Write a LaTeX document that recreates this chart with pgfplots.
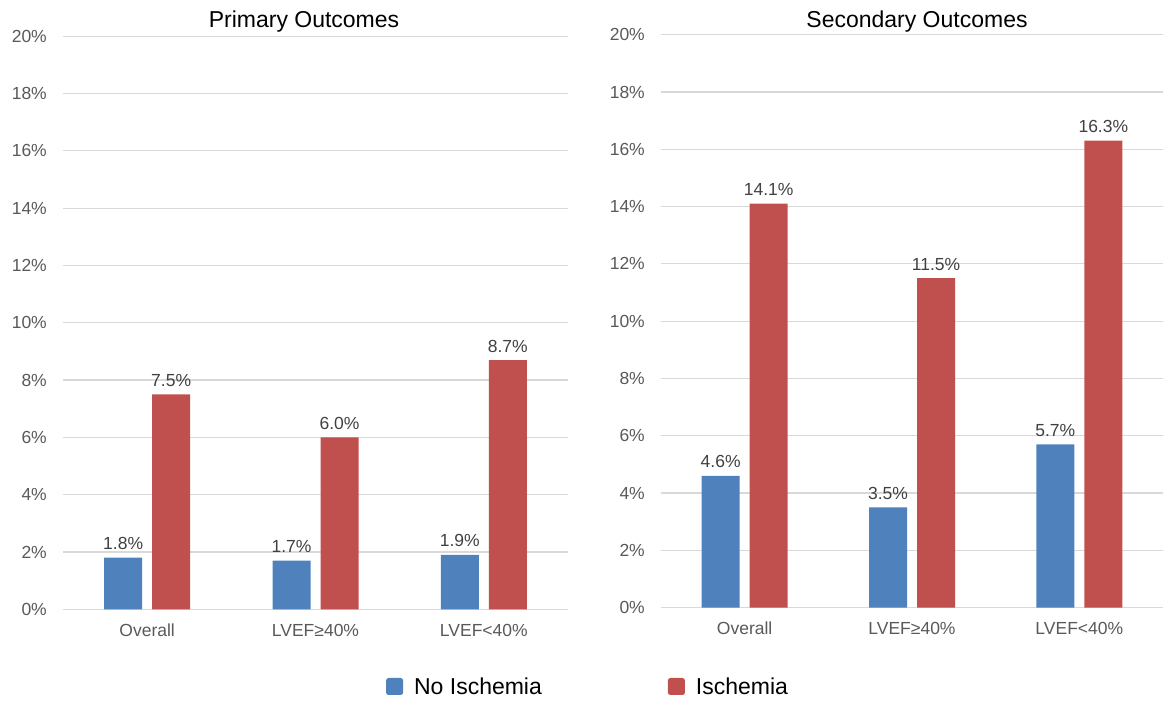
\documentclass[border=0pt]{standalone}
\usepackage{fontspec}
\setmainfont{Liberation Sans}
\usepackage{pgfplots}
\pgfplotsset{compat=1.18}

\definecolor{noisch}{HTML}{4F81BD}
\definecolor{isch}{HTML}{C0504D}
\definecolor{gridgray}{HTML}{D9D9D9}
\definecolor{ticktext}{HTML}{595959}
\definecolor{labeltext}{HTML}{404040}

\newcommand{\tickfont}{\fontsize{17.5}{21}\selectfont}
\newcommand{\bigfont}{\fontsize{23}{27}\selectfont}

\pgfplotsset{
  outcomes/.style={
    scale only axis,
    anchor=south west,
    height=573pt,
    ymin=0, ymax=20,
    xmin=-0.5, xmax=2.5,
    ytick={0,2,...,20},
    yticklabels={0\%,2\%,4\%,6\%,8\%,10\%,12\%,14\%,16\%,18\%,20\%},
    xtick={0,1,2},
    xticklabels={Overall,LVEF≥40\%,LVEF<40\%},
    ymajorgrids,
    grid style={gridgray, line width=1.2pt},
    axis line style={draw=none},
    major tick length=0pt,
    tick label style={font=\tickfont, text=ticktext},
    yticklabel style={anchor=east, inner sep=0pt, xshift=-16pt},
    xticklabel style={anchor=base, inner sep=0pt, yshift=-27pt},
    ybar=10pt,
    bar width=38pt,
    clip=false,
    /pgf/number format/assume math mode=true,
    nodes near coords={\pgfmathprintnumber[fixed,fixed zerofill,precision=1]{\pgfplotspointmeta}\%},
    every node near coord/.append style={font=\tickfont, text=labeltext, inner sep=0pt, anchor=base, yshift=8pt},
  }
}

\begin{document}
\begin{tikzpicture}[x=1pt,y=1pt]
\path[use as bounding box] (0,0) rectangle (1167,704);

% Primary outcomes
\begin{axis}[outcomes, at={(63pt,94.7pt)}, width=505pt]
\addplot[fill=noisch, draw=none] coordinates {(0,1.8) (1,1.7) (2,1.9)};
\addplot[fill=isch, draw=none] coordinates {(0,7.5) (1,6.0) (2,8.7)};
\end{axis}

% Secondary outcomes
\begin{axis}[outcomes, at={(661pt,96.3pt)}, width=502pt,
  legend columns=2,
  legend style={draw=none, fill=none, font=\bigfont, inner sep=0pt,
    at={(-0.548,-0.1375)}, anchor=west,
    /tikz/every odd column/.append style={column sep=9pt},
    /tikz/every even column/.append style={column sep=124pt}},
  legend image code/.code={\fill[rounded corners=2.5pt] (0pt,-8.5pt) rectangle (17pt,8.5pt);},
]
\addplot[fill=noisch, draw=none] coordinates {(0,4.6) (1,3.5) (2,5.7)};
\addplot[fill=isch, draw=none] coordinates {(0,14.1) (1,11.5) (2,16.3)};
\legend{No Ischemia, Ischemia}
\end{axis}

\node[font=\bigfont, anchor=base] at (304,676) {Primary Outcomes};
\node[font=\bigfont, anchor=base] at (917,676) {Secondary Outcomes};
\end{tikzpicture}
\end{document}
